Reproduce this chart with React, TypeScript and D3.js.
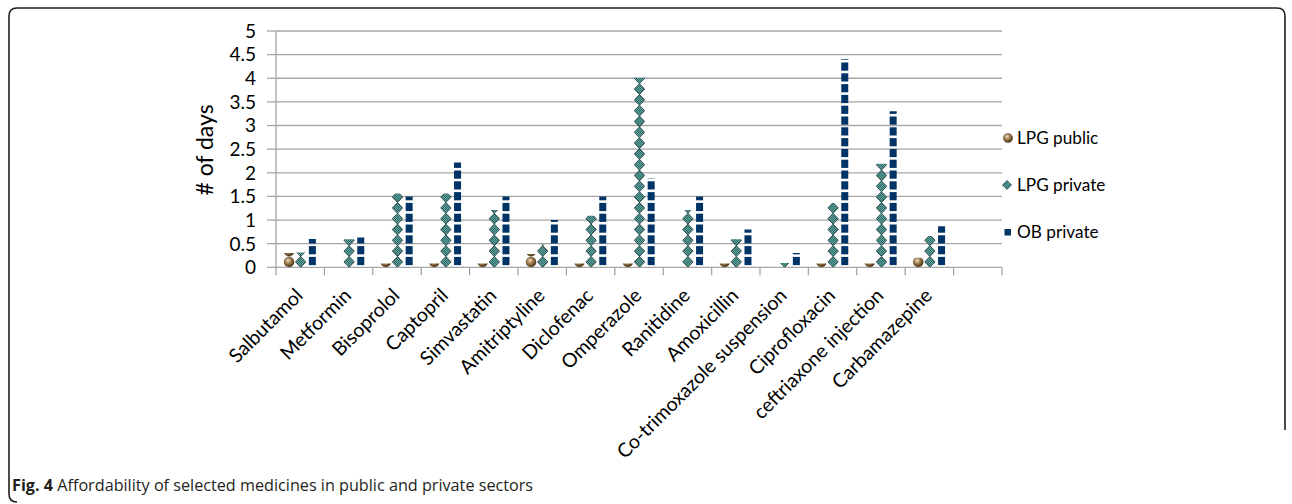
import React from "react";
import * as d3 from "d3";

const categories = [
  "Salbutamol",
  "Metformin",
  "Bisoprolol",
  "Captopril",
  "Simvastatin",
  "Amitriptyline",
  "Diclofenac",
  "Omperazole",
  "Ranitidine",
  "Amoxicillin",
  "Co-trimoxazole suspension",
  "Ciprofloxacin",
  "ceftriaxone injection",
  "Carbamazepine",
  "",
];
const lpgPublic = [0.3, 0, 0.08, 0.08, 0.08, 0.28, 0.08, 0.08, 0, 0.08, 0, 0.08, 0.08, 0.2, 0];
const lpgPrivate = [0.3, 0.58, 1.55, 1.55, 1.2, 0.47, 1.08, 4.0, 1.2, 0.58, 0.08, 1.35, 2.18, 0.65, 0];
const obPrivate = [0.6, 0.63, 1.5, 2.22, 1.5, 1.0, 1.5, 1.88, 1.5, 0.8, 0.3, 4.4, 3.3, 0.87, 0];
const seriesNames = ["LPG public", "LPG private", "OB private"];
const yTicks = [0, 0.5, 1, 1.5, 2, 2.5, 3, 3.5, 4, 4.5, 5];

const W = 1292;
const H = 504;
const FONT = "Lato, 'Open Sans', sans-serif";
const TILE = 10.8;

export default function App() {
  const x = d3
    .scaleBand<number>()
    .domain(categories.map((_, i) => i))
    .range([276, 1002])
    .padding(0);
  const y = d3.scaleLinear().domain([0, 5]).range([267.3, 31]);
  const inner = d3.scaleBand<string>().domain(seriesNames).range([-17, 18]);
  const bw = inner.bandwidth();
  const y0 = y(0);
  const allSeries = [lpgPublic, lpgPrivate, obPrivate];

  const glyph = (s: number, cx: number, tb: number, key: string) => {
    if (s === 0) {
      return <circle key={key} cx={cx} cy={tb - 5.3} r={5} fill="url(#sphereGrad)" stroke="#3a2810" strokeWidth={0.4} />;
    }
    if (s === 1) {
      const pts = [
        [cx, tb - TILE],
        [cx + 5.2, tb - TILE / 2],
        [cx, tb],
        [cx - 5.2, tb - TILE / 2],
      ]
        .map((p) => p.join(","))
        .join(" ");
      return <polygon key={key} points={pts} fill="url(#checker)" stroke="#1b3535" strokeWidth={0.8} />;
    }
    return <rect key={key} x={cx - 3.5} y={tb - 2.2 - 8.2} width={7} height={8.2} fill="#003466" />;
  };

  const bars: React.ReactNode[] = [];
  const clips: React.ReactNode[] = [];
  allSeries.forEach((vals, s) => {
    vals.forEach((v, i) => {
      if (!v) return;
      const cx = (x(i) as number) + x.bandwidth() / 2 + (inner(seriesNames[s]) as number) + bw / 2;
      const top = y(v);
      const h = y0 - top;
      const n = Math.ceil(h / TILE);
      const id = `clip-${s}-${i}`;
      clips.push(
        <clipPath key={id} id={id}>
          <rect x={cx - bw / 2} y={top - (s === 1 ? 0.6 : 0)} width={bw} height={h + (s === 1 ? 0.6 : 0)} />
        </clipPath>
      );
      const g: React.ReactNode[] = [];
      for (let k = 0; k < n; k++) g.push(glyph(s, cx, y0 - k * TILE, `${id}-${k}`));
      bars.push(
        <g key={id} clipPath={`url(#${id})`}>
          {g}
        </g>
      );
    });
  });

  const legendY = [138, 185, 232];

  return (
    <svg width={W} height={H} style={{ position: "absolute", left: 0, top: 0, background: "#fff" }} fontFamily={FONT}>
      <defs>
        <radialGradient id="sphereGrad" cx="0.4" cy="0.35" r="0.7">
          <stop offset="0" stopColor="#efe2c8" />
          <stop offset="0.35" stopColor="#b08e60" />
          <stop offset="0.75" stopColor="#6b4e26" />
          <stop offset="1" stopColor="#3a2810" />
        </radialGradient>
        <pattern id="checker" width={2} height={2} patternUnits="userSpaceOnUse">
          <rect width={2} height={2} fill="#62a9a5" />
          <rect width={1} height={1} fill="#2e6664" />
          <rect x={1} y={1} width={1} height={1} fill="#2e6664" />
        </pattern>
        {clips}
      </defs>
      <rect width={W} height={H} fill="#fff" />
      {/* frame */}
      <path
        d="M1285,430 L1285,16 Q1285,8 1277,8 L17,8 Q9,8 9,16 L9,494 Q9,502 17,502"
        fill="none"
        stroke="#231f20"
        strokeWidth={1.6}
      />
      {/* gridlines */}
      {yTicks.slice(1).map((t) => (
        <line key={t} x1={276} x2={1002} y1={y(t)} y2={y(t)} stroke="#a6a6a6" strokeWidth={1.3} />
      ))}
      {/* y axis */}
      <line x1={276} x2={276} y1={y(5)} y2={y0} stroke="#a6a6a6" strokeWidth={1.3} />
      {yTicks.map((t) => (
        <g key={`yt${t}`}>
          <line x1={267} x2={276} y1={y(t)} y2={y(t)} stroke="#a6a6a6" strokeWidth={1.3} />
          <text x={256} y={y(t)} dy="0.36em" textAnchor="end" fontSize={19} fill="#000">
            {t}
          </text>
        </g>
      ))}
      {/* x axis */}
      <line x1={276} x2={1002} y1={y0} y2={y0} stroke="#a6a6a6" strokeWidth={1.3} />
      {categories.map((_, i) => (
        <line key={`xt${i}`} x1={x(i) as number} x2={x(i) as number} y1={y0} y2={y0 + 8} stroke="#a6a6a6" strokeWidth={1.3} />
      ))}
      <line x1={1002} x2={1002} y1={y0} y2={y0 + 8} stroke="#a6a6a6" strokeWidth={1.3} />
      {categories.map((c, i) => {
        const ax = (x(i) as number) + x.bandwidth() / 2 - 1;
        const ay = 292;
        return (
          <text key={`xl${i}`} x={ax} y={ay} dy="0.35em" textAnchor="end" fontSize={19.5} transform={`rotate(-45,${ax},${ay})`}>
            {c}
          </text>
        );
      })}
      <text x={0} y={0} transform={`translate(213,150) rotate(-90)`} textAnchor="middle" fontSize={23}>
        # of days
      </text>
      {bars}
      {/* legend */}
      <circle cx={1008} cy={legendY[0]} r={4.6} fill="url(#sphereGrad)" stroke="#3a2810" strokeWidth={0.4} />
      <polygon
        points={`1007,${legendY[1] - 4.5} 1011.5,${legendY[1]} 1007,${legendY[1] + 4.5} 1002.5,${legendY[1]}`}
        fill="url(#checker)"
        stroke="#1b3535"
        strokeWidth={0.7}
      />
      <rect x={1004.5} y={legendY[2] - 3} width={6.5} height={6.5} fill="#003466" />
      {seriesNames.map((s, i) => (
        <text key={s} x={1017} y={legendY[i]} dy="0.36em" fontSize={17.2}>
          {s}
        </text>
      ))}
      {/* caption */}
      <text x={12} y={491} fontSize={16.2} fontFamily="'Open Sans', sans-serif" fill="#231f20">
        <tspan fontWeight="bold">Fig. 4</tspan> Affordability of selected medicines in public and private sectors
      </text>
    </svg>
  );
}
